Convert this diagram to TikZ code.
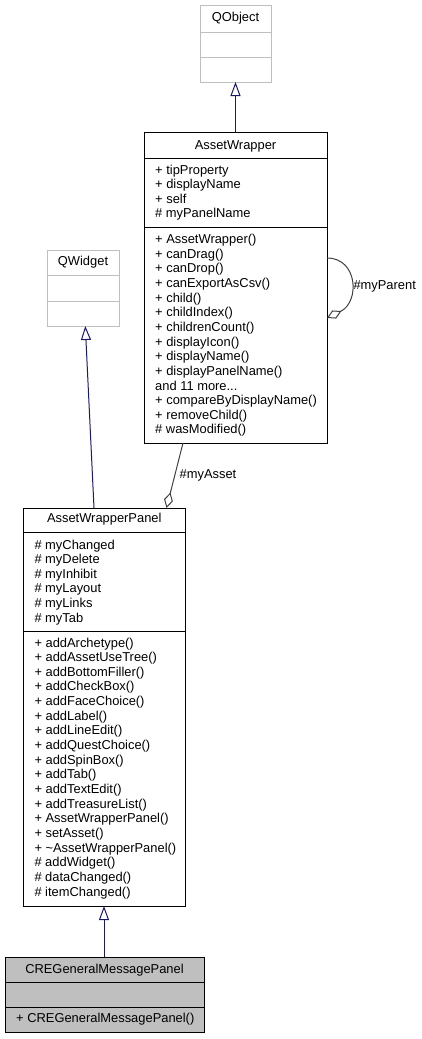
\documentclass[tikz,border=0pt]{standalone}
\usepackage{fontspec}
\setmainfont{Liberation Sans}
\usetikzlibrary{arrows.meta}
\definecolor{edgeblue}{HTML}{191970}
\definecolor{agggray}{HTML}{404040}
\definecolor{boxgray}{HTML}{BFBFBF}
\newcommand{\mydots}{...}
\tikzset{
  box/.style={draw=black, line width=1pt, fill=white, inner sep=0pt, outer sep=0pt},
  ghostbox/.style={draw=boxgray, line width=1pt, fill=white, inner sep=0pt, outer sep=0pt},
  curbox/.style={draw=black, line width=1pt, fill=boxgray, inner sep=0pt, outer sep=0pt},
  txt/.style={inner sep=0pt, anchor=base west, font=\fontsize{12.9}{14.65}\selectfont},
  ttl/.style={inner sep=0pt, anchor=base, font=\fontsize{12.9}{14.65}\selectfont},
  inh/.style={draw=edgeblue, line width=1pt, -{Triangle[open, length=14pt, width=10pt, line width=1pt]}},
  agg/.style={draw=agggray, line width=1pt, {Diamond[open, length=16pt, width=9pt, line width=1pt]}-},
}
\begin{document}
\begin{tikzpicture}[x=1pt, y=-1pt]
\useasboundingbox (0,0) rectangle (421,1039);

% QObject
\node[ghostbox, minimum width=71pt, minimum height=77pt] (qobject) at (235.5,43.5) {};
\draw[boxgray, line width=1pt] (200,32) -- (271,32) (200,57) -- (271,57);
\node[ttl] (qobjectT) at (235.5,21.5) {QObject};

% QWidget
\node[ghostbox, minimum width=72pt, minimum height=76pt] (qwidget) at (83,288) {};
\draw[boxgray, line width=1pt] (47,275) -- (119,275) (47,301) -- (119,301);
\node[ttl] (qwidgetT) at (83,265) {QWidget};

% AssetWrapper
\node[box, minimum width=183pt, minimum height=311pt] (aw) at (235.5,287.5) {};
\draw[line width=1pt] (144,158) -- (327,158) (144,227) -- (327,227);
\node[ttl] (awT) at (235.5,149.2) {AssetWrapper};
\foreach \t [count=\i from 0] in {{+ tipProperty},{+ displayName},{+ self},{\# myPanelName}}
  \node[txt] (awa\i) at (155,{174+14.65*\i}) {\t};
\foreach \t [count=\i from 0] in {{+ AssetWrapper()},{+ canDrag()},{+ canDrop()},{+ canExportAsCsv()},{+ child()},{+ childIndex()},{+ childrenCount()},{+ displayIcon()},{+ displayName()},{+ displayPanelName()},{and 11 more\mydots},{+ compareByDisplayName()},{+ removeChild()},{\# wasModified()}}
  \node[txt] (awm\i) at (155,{243.5+14.65*\i}) {\t};

% AssetWrapperPanel
\node[box, minimum width=162.5pt, minimum height=398pt] (awp) at (104.25,707) {};
\draw[line width=1pt] (23,532) -- (185.5,532) (23,631) -- (185.5,631);
\node[ttl] (awpT) at (104.25,522.5) {AssetWrapperPanel};
\foreach \t [count=\i from 0] in {{\# myChanged},{\# myDelete},{\# myInhibit},{\# myLayout},{\# myLinks},{\# myTab}}
  \node[txt] (awpa\i) at (34.3,{549+14.65*\i}) {\t};
\foreach \t [count=\i from 0] in {{+ addArchetype()},{+ addAssetUseTree()},{+ addBottomFiller()},{+ addCheckBox()},{+ addFaceChoice()},{+ addLabel()},{+ addLineEdit()},{+ addQuestChoice()},{+ addSpinBox()},{+ addTab()},{+ addTextEdit()},{+ addTreasureList()},{+ AssetWrapperPanel()},{+ setAsset()},{+ \textasciitilde AssetWrapperPanel()},{\# addWidget()},{\# dataChanged()},{\# itemChanged()}}
  \node[txt] (awpm\i) at (34.3,{647+14.65*\i}) {\t};

% CREGeneralMessagePanel
\node[curbox, minimum width=199pt, minimum height=75pt] (cre) at (104.5,994.5) {};
\draw[line width=1pt] (5,982) -- (204,982) (5,1007) -- (204,1007);
\node[ttl] (creT) at (104.5,973) {CREGeneralMessagePanel};
\node[txt] (crem0) at (16,1022.5) {+ CREGeneralMessagePanel()};

% inheritance
\draw[inh] (aw.north) -- (qobject.south);
\draw[inh] ([xshift=-10.25pt]awp.north) -- ([xshift=2.3pt]qwidget.south);
\draw[inh] ([xshift=-0.5pt]cre.north) -- ([xshift=-0.25pt]awp.south);

% aggregation
\draw[agg] ([xshift=62.25pt]awp.north) -- ([xshift=-52.5pt]aw.south);
\node[txt] (myAssetL) at (179.5,478) {\#myAsset};
\draw[agg] ([yshift=-30.5pt]aw.east) .. controls (360,302) and (358,258) .. ([yshift=29.5pt]aw.east);
\node[txt] (myParentL) at (353.3,289) {\#myParent};
\end{tikzpicture}
\end{document}
